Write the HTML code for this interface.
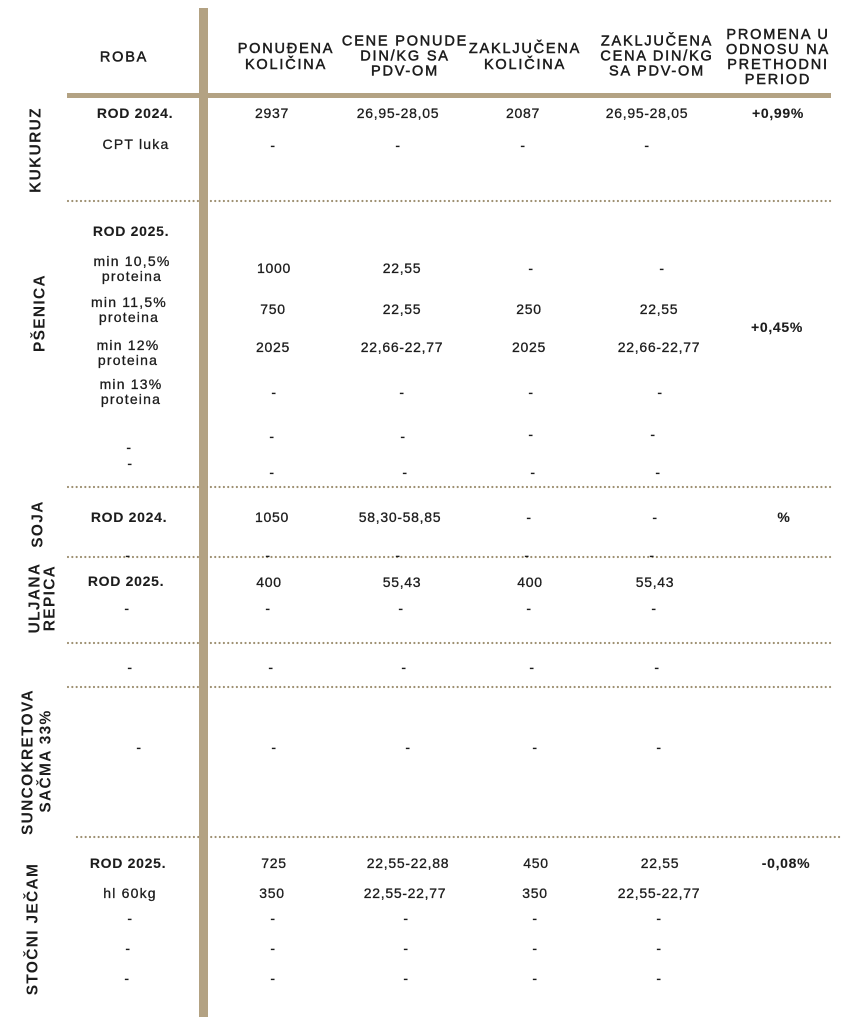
<!DOCTYPE html>
<html>
<head>
<meta charset="utf-8">
<style>
html,body{margin:0;padding:0;background:#fff;}
#c{position:relative;width:850px;height:1017px;overflow:hidden;background:#fff;font-family:"Liberation Sans",sans-serif;color:#1c1c1c;}
.t{position:absolute;transform:translate(-50%,-50%);white-space:nowrap;line-height:1;font-size:14px;letter-spacing:0.7px;-webkit-text-stroke:0.3px #1c1c1c;}
.b{font-weight:bold;letter-spacing:0.7px;-webkit-text-stroke:0.1px #1c1c1c;}
.l{letter-spacing:1.2px;}
.h{position:absolute;transform:translate(-50%,-50%);white-space:nowrap;text-align:center;font-size:14.5px;line-height:15px;letter-spacing:1.8px;-webkit-text-stroke:0.5px #1c1c1c;}
.r{position:absolute;transform:translate(-50%,-50%) rotate(-90deg);white-space:nowrap;line-height:1;font-size:15.5px;font-weight:bold;letter-spacing:1.3px;}
.lbl{position:absolute;transform:translate(-50%,-50%);white-space:nowrap;text-align:center;font-size:14px;line-height:15px;letter-spacing:1.2px;-webkit-text-stroke:0.3px #1c1c1c;}
svg{position:absolute;left:0;top:0;}
</style>
</head>
<body>
<div id="c">
<svg width="850" height="1017">
  <g stroke="#9e9072" stroke-width="2.2" stroke-linecap="round" stroke-dasharray="0 4.33">
    <line x1="68" y1="201" x2="831" y2="201"/>
    <line x1="68" y1="487" x2="831" y2="487"/>
    <line x1="68" y1="557" x2="831" y2="557"/>
    <line x1="68" y1="643" x2="831" y2="643"/>
    <line x1="68" y1="687" x2="831" y2="687"/>
    <line x1="77" y1="837" x2="840" y2="837"/>
  </g>
  <rect x="67" y="93" width="764" height="5" fill="#b3a283"/>
  <rect x="199" y="8" width="9" height="1009" fill="#b3a283"/>
</svg>

<!-- header -->
<div class="h" style="left:124px;top:58px;">ROBA</div>
<div class="h" style="left:286px;top:57px;line-height:16px;">PONUĐENA<br>KOLIČINA</div>
<div class="h" style="left:405px;top:57px;">CENE PONUDE<br>DIN/KG SA<br>PDV-OM</div>
<div class="h" style="left:525px;top:57px;line-height:16px;">ZAKLJUČENA<br>KOLIČINA</div>
<div class="h" style="left:657px;top:57px;">ZAKLJUČENA<br>CENA DIN/KG<br>SA PDV-OM</div>
<div class="h" style="left:778px;top:57.5px;">PROMENA U<br>ODNOSU NA<br>PRETHODNI<br>PERIOD</div>

<!-- rotated labels -->
<div class="r" style="left:36px;top:150px;">KUKURUZ</div>
<div class="r" style="left:40px;top:313px;">PŠENICA</div>
<div class="r" style="left:38px;top:524px;">SOJA</div>
<div class="r" style="left:35px;top:598px;">ULJANA</div>
<div class="r" style="left:50px;top:598px;">REPICA</div>
<div class="r" style="left:28px;top:762px;">SUNCOKRETOVA</div>
<div class="r" style="left:46px;top:761px;">SAČMA 33%</div>
<div class="r" style="left:33px;top:929px;">STOČNI JEČAM</div>

<!-- KUKURUZ -->
<div class="t b" style="left:135px;top:113px;">ROD 2024.</div>
<div class="t" style="left:272px;top:113px;">2937</div>
<div class="t" style="left:398px;top:113px;">26,95-28,05</div>
<div class="t" style="left:523px;top:113px;">2087</div>
<div class="t" style="left:647px;top:113px;">26,95-28,05</div>
<div class="t b" style="left:778px;top:113px;">+0,99%</div>
<div class="t l" style="left:136px;top:144px;">CPT luka</div>
<div class="t" style="left:273px;top:145px;">-</div>
<div class="t" style="left:398px;top:145px;">-</div>
<div class="t" style="left:523px;top:145px;">-</div>
<div class="t" style="left:647px;top:145px;">-</div>

<!-- PSENICA -->
<div class="t b" style="left:131px;top:231px;">ROD 2025.</div>
<div class="lbl" style="left:132px;top:269px;">min 10,5%<br>proteina</div>
<div class="t" style="left:274px;top:268px;">1000</div>
<div class="t" style="left:402px;top:268px;">22,55</div>
<div class="t" style="left:531px;top:268px;">-</div>
<div class="t" style="left:662px;top:268px;">-</div>

<div class="lbl" style="left:129px;top:310px;">min 11,5%<br>proteina</div>
<div class="t" style="left:273px;top:309px;">750</div>
<div class="t" style="left:402px;top:309px;">22,55</div>
<div class="t" style="left:529px;top:309px;">250</div>
<div class="t" style="left:659px;top:309px;">22,55</div>
<div class="t b" style="left:777px;top:327px;">+0,45%</div>

<div class="lbl" style="left:128px;top:353px;">min 12%<br>proteina</div>
<div class="t" style="left:273px;top:347px;">2025</div>
<div class="t" style="left:402px;top:347px;">22,66-22,77</div>
<div class="t" style="left:529px;top:347px;">2025</div>
<div class="t" style="left:659px;top:347px;">22,66-22,77</div>

<div class="lbl" style="left:131px;top:392px;">min 13%<br>proteina</div>
<div class="t" style="left:274px;top:392px;">-</div>
<div class="t" style="left:402px;top:392px;">-</div>
<div class="t" style="left:531px;top:392px;">-</div>
<div class="t" style="left:660px;top:392px;">-</div>

<div class="t" style="left:272px;top:436px;">-</div>
<div class="t" style="left:403px;top:436px;">-</div>
<div class="t" style="left:531px;top:434px;">-</div>
<div class="t" style="left:653px;top:434px;">-</div>
<div class="t" style="left:129px;top:447px;">-</div>
<div class="t" style="left:130px;top:463px;">-</div>
<div class="t" style="left:272px;top:472px;">-</div>
<div class="t" style="left:405px;top:472px;">-</div>
<div class="t" style="left:533px;top:472px;">-</div>
<div class="t" style="left:658px;top:472px;">-</div>

<!-- SOJA -->
<div class="t b" style="left:129px;top:517px;">ROD 2024.</div>
<div class="t" style="left:272px;top:517px;">1050</div>
<div class="t" style="left:400px;top:517px;">58,30-58,85</div>
<div class="t" style="left:529px;top:517px;">-</div>
<div class="t" style="left:655px;top:517px;">-</div>
<div class="t b" style="left:784px;top:517px;">%</div>
<div class="t" style="left:128px;top:555px;">-</div>
<div class="t" style="left:268px;top:555px;">-</div>
<div class="t" style="left:398px;top:555px;">-</div>
<div class="t" style="left:527px;top:555px;">-</div>
<div class="t" style="left:652px;top:555px;">-</div>

<!-- ULJANA REPICA -->
<div class="t b" style="left:126px;top:581px;">ROD 2025.</div>
<div class="t" style="left:269px;top:582px;">400</div>
<div class="t" style="left:402px;top:582px;">55,43</div>
<div class="t" style="left:530px;top:582px;">400</div>
<div class="t" style="left:655px;top:582px;">55,43</div>
<div class="t" style="left:127px;top:608px;">-</div>
<div class="t" style="left:268px;top:608px;">-</div>
<div class="t" style="left:401px;top:608px;">-</div>
<div class="t" style="left:529px;top:608px;">-</div>
<div class="t" style="left:654px;top:608px;">-</div>

<div class="t" style="left:130px;top:667px;">-</div>
<div class="t" style="left:271px;top:667px;">-</div>
<div class="t" style="left:404px;top:667px;">-</div>
<div class="t" style="left:532px;top:667px;">-</div>
<div class="t" style="left:657px;top:667px;">-</div>

<!-- SUNCOKRETOVA -->
<div class="t" style="left:139px;top:747px;">-</div>
<div class="t" style="left:274px;top:747px;">-</div>
<div class="t" style="left:408px;top:747px;">-</div>
<div class="t" style="left:535px;top:747px;">-</div>
<div class="t" style="left:659px;top:747px;">-</div>

<!-- STOCNI JECAM -->
<div class="t b" style="left:128px;top:863px;">ROD 2025.</div>
<div class="t" style="left:274px;top:863px;">725</div>
<div class="t" style="left:408px;top:863px;">22,55-22,88</div>
<div class="t" style="left:536px;top:863px;">450</div>
<div class="t" style="left:660px;top:863px;">22,55</div>
<div class="t b" style="left:786px;top:863px;">-0,08%</div>

<div class="t l" style="left:130px;top:893px;">hl 60kg</div>
<div class="t" style="left:272px;top:893px;">350</div>
<div class="t" style="left:405px;top:893px;">22,55-22,77</div>
<div class="t" style="left:535px;top:893px;">350</div>
<div class="t" style="left:659px;top:893px;">22,55-22,77</div>

<div class="t" style="left:130px;top:918px;">-</div>
<div class="t" style="left:273px;top:918px;">-</div>
<div class="t" style="left:406px;top:918px;">-</div>
<div class="t" style="left:535px;top:918px;">-</div>
<div class="t" style="left:659px;top:918px;">-</div>

<div class="t" style="left:128px;top:948px;">-</div>
<div class="t" style="left:273px;top:948px;">-</div>
<div class="t" style="left:406px;top:948px;">-</div>
<div class="t" style="left:535px;top:948px;">-</div>
<div class="t" style="left:659px;top:948px;">-</div>

<div class="t" style="left:127px;top:978px;">-</div>
<div class="t" style="left:273px;top:978px;">-</div>
<div class="t" style="left:406px;top:978px;">-</div>
<div class="t" style="left:535px;top:978px;">-</div>
<div class="t" style="left:659px;top:978px;">-</div>
</div>
</body>
</html>
